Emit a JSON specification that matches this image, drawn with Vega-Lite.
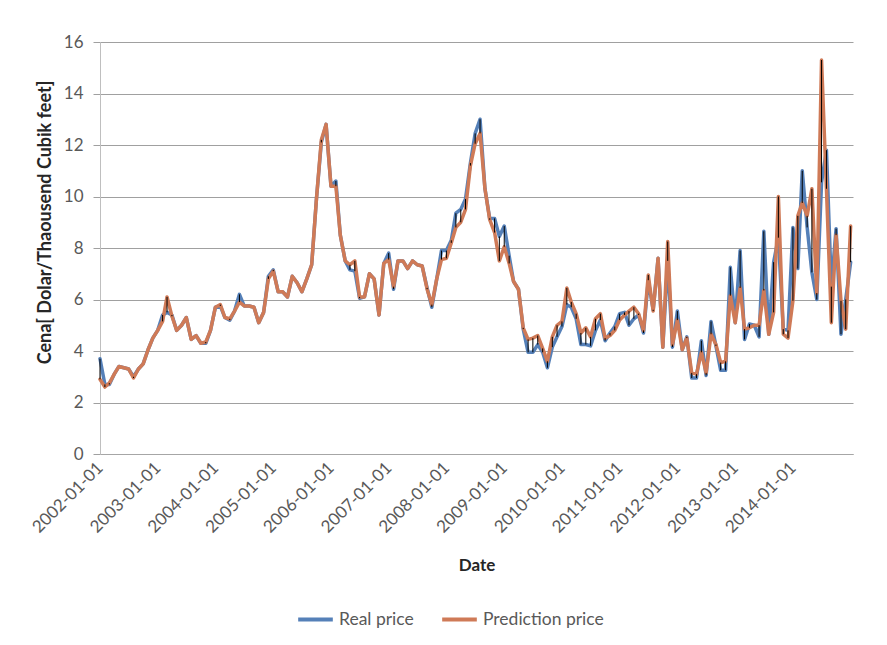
{
  "$schema": "https://vega.github.io/schema/vega-lite/v6.json",
  "width": 753,
  "height": 412,
  "autosize": {"type": "none"},
  "padding": {"left": 100, "top": 42, "right": 34, "bottom": 191},
  "background": "white",
  "config": {
    "font": "Lato",
    "view": {"stroke": null},
    "axis": {"labelFont": "Lato", "labelFontSize": 16, "labelColor": "#595959", "titleFont": "Lato", "titleFontSize": 17, "titleFontWeight": "bold", "titleColor": "#262626"},
    "legend": {"labelFont": "Lato", "labelFontSize": 17.5, "labelColor": "#595959"}
  },
  "data": {"values": [
    {"date":"2002-01-01","real":3.7,"pred":2.9},{"date":"2002-02-01","real":2.7,"pred":2.6},{"date":"2002-03-01","real":2.7,"pred":2.75},{"date":"2002-04-01","real":3.1,"pred":3.1},{"date":"2002-05-01","real":3.4,"pred":3.4},{"date":"2002-06-01","real":3.35,"pred":3.35},{"date":"2002-07-01","real":3.3,"pred":3.3},{"date":"2002-08-01","real":3.0,"pred":2.95},{"date":"2002-09-01","real":3.3,"pred":3.3},{"date":"2002-10-01","real":3.5,"pred":3.5},{"date":"2002-11-01","real":4.05,"pred":4.05},{"date":"2002-12-01","real":4.5,"pred":4.5},
    {"date":"2003-01-01","real":4.8,"pred":4.8},{"date":"2003-02-01","real":5.4,"pred":5.15},{"date":"2003-03-01","real":5.5,"pred":6.1},{"date":"2003-04-01","real":5.4,"pred":5.35},{"date":"2003-05-01","real":4.8,"pred":4.8},{"date":"2003-06-01","real":5.0,"pred":5.0},{"date":"2003-07-01","real":5.3,"pred":5.3},{"date":"2003-08-01","real":4.45,"pred":4.45},{"date":"2003-09-01","real":4.6,"pred":4.6},{"date":"2003-10-01","real":4.3,"pred":4.3},{"date":"2003-11-01","real":4.3,"pred":4.35},{"date":"2003-12-01","real":4.8,"pred":4.8},
    {"date":"2004-01-01","real":5.7,"pred":5.7},{"date":"2004-02-01","real":5.75,"pred":5.8},{"date":"2004-03-01","real":5.3,"pred":5.3},{"date":"2004-04-01","real":5.2,"pred":5.25},{"date":"2004-05-01","real":5.55,"pred":5.55},{"date":"2004-06-01","real":6.2,"pred":5.9},{"date":"2004-07-01","real":5.75,"pred":5.75},{"date":"2004-08-01","real":5.75,"pred":5.75},{"date":"2004-09-01","real":5.7,"pred":5.7},{"date":"2004-10-01","real":5.1,"pred":5.1},{"date":"2004-11-01","real":5.5,"pred":5.5},{"date":"2004-12-01","real":6.9,"pred":6.8},
    {"date":"2005-01-01","real":7.15,"pred":7.1},{"date":"2005-02-01","real":6.3,"pred":6.3},{"date":"2005-03-01","real":6.3,"pred":6.3},{"date":"2005-04-01","real":6.1,"pred":6.1},{"date":"2005-05-01","real":6.9,"pred":6.9},{"date":"2005-06-01","real":6.65,"pred":6.65},{"date":"2005-07-01","real":6.3,"pred":6.3},{"date":"2005-08-01","real":6.8,"pred":6.8},{"date":"2005-09-01","real":7.35,"pred":7.35},{"date":"2005-10-01","real":9.9,"pred":9.9},{"date":"2005-11-01","real":12.1,"pred":12.2},{"date":"2005-12-01","real":12.8,"pred":12.8},
    {"date":"2006-01-01","real":10.4,"pred":10.4},{"date":"2006-02-01","real":10.6,"pred":10.4},{"date":"2006-03-01","real":8.5,"pred":8.5},{"date":"2006-04-01","real":7.5,"pred":7.5},{"date":"2006-05-01","real":7.15,"pred":7.35},{"date":"2006-06-01","real":7.1,"pred":7.5},{"date":"2006-07-01","real":6.05,"pred":6.1},{"date":"2006-08-01","real":6.1,"pred":6.1},{"date":"2006-09-01","real":7.0,"pred":7.0},{"date":"2006-10-01","real":6.8,"pred":6.8},{"date":"2006-11-01","real":5.4,"pred":5.4},{"date":"2006-12-01","real":7.4,"pred":7.4},
    {"date":"2007-01-01","real":7.8,"pred":7.55},{"date":"2007-02-01","real":6.4,"pred":6.5},{"date":"2007-03-01","real":7.5,"pred":7.5},{"date":"2007-04-01","real":7.5,"pred":7.5},{"date":"2007-05-01","real":7.2,"pred":7.2},{"date":"2007-06-01","real":7.5,"pred":7.5},{"date":"2007-07-01","real":7.35,"pred":7.35},{"date":"2007-08-01","real":7.3,"pred":7.3},{"date":"2007-09-01","real":6.45,"pred":6.4},{"date":"2007-10-01","real":5.7,"pred":5.8},{"date":"2007-11-01","real":6.8,"pred":6.8},{"date":"2007-12-01","real":7.9,"pred":7.55},
    {"date":"2008-01-01","real":7.9,"pred":7.6},{"date":"2008-02-01","real":8.3,"pred":8.2},{"date":"2008-03-01","real":9.35,"pred":8.8},{"date":"2008-04-01","real":9.5,"pred":9.0},{"date":"2008-05-01","real":9.9,"pred":9.5},{"date":"2008-06-01","real":11.3,"pred":11.2},{"date":"2008-07-01","real":12.45,"pred":12.05},{"date":"2008-08-01","real":13.0,"pred":12.45},{"date":"2008-09-01","real":10.3,"pred":10.3},{"date":"2008-10-01","real":9.15,"pred":9.1},{"date":"2008-11-01","real":9.15,"pred":8.6},{"date":"2008-12-01","real":8.45,"pred":7.5},
    {"date":"2009-01-01","real":8.85,"pred":8.05},{"date":"2009-02-01","real":7.7,"pred":7.4},{"date":"2009-03-01","real":6.7,"pred":6.7},{"date":"2009-04-01","real":6.4,"pred":6.4},{"date":"2009-05-01","real":4.85,"pred":4.9},{"date":"2009-06-01","real":3.95,"pred":4.45},{"date":"2009-07-01","real":3.95,"pred":4.5},{"date":"2009-08-01","real":4.25,"pred":4.6},{"date":"2009-09-01","real":3.95,"pred":4.1},{"date":"2009-10-01","real":3.35,"pred":3.6},{"date":"2009-11-01","real":4.15,"pred":4.55},{"date":"2009-12-01","real":4.55,"pred":5.0},
    {"date":"2010-01-01","real":4.95,"pred":5.15},{"date":"2010-02-01","real":5.8,"pred":6.45},{"date":"2010-03-01","real":5.7,"pred":5.9},{"date":"2010-04-01","real":5.25,"pred":5.45},{"date":"2010-05-01","real":4.25,"pred":4.7},{"date":"2010-06-01","real":4.25,"pred":4.9},{"date":"2010-07-01","real":4.2,"pred":4.55},{"date":"2010-08-01","real":4.8,"pred":5.25},{"date":"2010-09-01","real":5.2,"pred":5.45},{"date":"2010-10-01","real":4.4,"pred":4.5},{"date":"2010-11-01","real":4.7,"pred":4.6},{"date":"2010-12-01","real":4.95,"pred":4.8},
    {"date":"2011-01-01","real":5.45,"pred":5.2},{"date":"2011-02-01","real":5.5,"pred":5.4},{"date":"2011-03-01","real":5.0,"pred":5.55},{"date":"2011-04-01","real":5.25,"pred":5.7},{"date":"2011-05-01","real":5.4,"pred":5.45},{"date":"2011-06-01","real":4.7,"pred":4.8},{"date":"2011-07-01","real":6.75,"pred":6.95},{"date":"2011-08-01","real":5.6,"pred":5.55},{"date":"2011-09-01","real":7.6,"pred":7.6},{"date":"2011-10-01","real":4.15,"pred":4.15},{"date":"2011-11-01","real":7.5,"pred":8.25},{"date":"2011-12-01","real":4.15,"pred":4.25},
    {"date":"2012-01-01","real":5.55,"pred":5.2},{"date":"2012-02-01","real":4.05,"pred":4.05},{"date":"2012-03-01","real":4.55,"pred":4.5},{"date":"2012-04-01","real":2.95,"pred":3.15},{"date":"2012-05-01","real":2.95,"pred":3.1},{"date":"2012-06-01","real":4.4,"pred":3.95},{"date":"2012-07-01","real":3.05,"pred":3.15},{"date":"2012-08-01","real":5.15,"pred":4.65},{"date":"2012-09-01","real":4.2,"pred":4.25},{"date":"2012-10-01","real":3.25,"pred":3.55},{"date":"2012-11-01","real":3.25,"pred":3.6},{"date":"2012-12-01","real":7.25,"pred":6.15},
    {"date":"2013-01-01","real":5.1,"pred":5.1},{"date":"2013-02-01","real":7.9,"pred":6.45},{"date":"2013-03-01","real":4.45,"pred":4.85},{"date":"2013-04-01","real":5.05,"pred":4.9},{"date":"2013-05-01","real":5.0,"pred":5.0},{"date":"2013-06-01","real":4.55,"pred":5.0},{"date":"2013-07-01","real":8.65,"pred":6.35},{"date":"2013-08-01","real":4.65,"pred":4.65},{"date":"2013-09-01","real":7.45,"pred":5.5},{"date":"2013-10-01","real":8.4,"pred":10.0},{"date":"2013-11-01","real":4.85,"pred":4.65},{"date":"2013-12-01","real":4.8,"pred":4.5},
    {"date":"2014-01-01","real":8.8,"pred":5.95},{"date":"2014-02-01","real":7.2,"pred":9.25},{"date":"2014-03-01","real":11.0,"pred":9.75},{"date":"2014-04-01","real":8.8,"pred":9.25},{"date":"2014-05-01","real":7.05,"pred":10.3},{"date":"2014-06-01","real":6.0,"pred":6.25},{"date":"2014-07-01","real":10.55,"pred":15.3},{"date":"2014-08-01","real":11.8,"pred":10.3},{"date":"2014-09-01","real":6.5,"pred":5.1},{"date":"2014-10-01","real":8.75,"pred":8.5},{"date":"2014-11-01","real":4.65,"pred":5.95},{"date":"2014-12-01","real":6.0,"pred":4.85},
    {"date":"2015-01-01","real":7.45,"pred":8.85}
  ]},
  "encoding": {
    "x": {
      "field": "date", "type": "temporal",
      "scale": {"type": "utc", "domain": [{"year": 2002, "month": 1, "date": 1, "utc": true}, {"year": 2015, "month": 1, "date": 16, "utc": true}]},
      "axis": {"title": "Date", "format": "%Y-%m-%d", "labelAngle": -45, "labelFontSize": 17,
        "values": [{"year": 2002, "month": 1, "date": 1, "utc": true}, {"year": 2003, "month": 1, "date": 1, "utc": true}, {"year": 2004, "month": 1, "date": 1, "utc": true}, {"year": 2005, "month": 1, "date": 1, "utc": true}, {"year": 2006, "month": 1, "date": 1, "utc": true}, {"year": 2007, "month": 1, "date": 1, "utc": true}, {"year": 2008, "month": 1, "date": 1, "utc": true}, {"year": 2009, "month": 1, "date": 1, "utc": true}, {"year": 2010, "month": 1, "date": 1, "utc": true}, {"year": 2011, "month": 1, "date": 1, "utc": true}, {"year": 2012, "month": 1, "date": 1, "utc": true}, {"year": 2013, "month": 1, "date": 1, "utc": true}, {"year": 2014, "month": 1, "date": 1, "utc": true}],
        "grid": false, "ticks": false, "domainColor": "#a6a6a6", "labelPadding": 11, "labelDy": 14, "labelFlush": false, "labelOverlap": false, "titlePadding": 22, "labelAlign": "right", "labelBaseline": "middle"}
    }
  },
  "layer": [
    {
      "mark": {"type": "line", "strokeWidth": 3.5, "strokeJoin": "round", "strokeCap": "round"},
      "encoding": {
        "y": {"field": "real", "type": "quantitative", "scale": {"domain": [0, 16]},
          "axis": {"title": "Cena[ Dolar/Thaousend  Cubik feet]", "titleFontSize": 18, "titleY": 180, "values": [0, 2, 4, 6, 8, 10, 12, 14, 16], "labelFontSize": 17, "grid": true, "gridColor": "#a0a0a0", "domainColor": "#bfbfbf", "tickColor": "#a0a0a0", "tickSize": 7, "labelPadding": 10, "titlePadding": 9}},
        "color": {"datum": "Real price", "type": "nominal",
          "scale": {"domain": ["Real price", "Prediction price"], "range": ["#5580b8", "#cf7a57"]},
          "legend": {"title": null, "orient": "none", "direction": "horizontal", "legendX": 196, "legendY": 558, "symbolType": "stroke", "symbolSize": 1200, "symbolStrokeWidth": 4, "columnPadding": 20, "labelOffset": 4, "padding": 0}}
      }
    },
    {
      "mark": {"type": "line", "strokeWidth": 3.5, "strokeJoin": "round", "strokeCap": "round"},
      "encoding": {
        "y": {"field": "pred", "type": "quantitative"},
        "color": {"datum": "Prediction price", "type": "nominal"}
      }
    },
    {
      "mark": {"type": "rule", "color": "#000000", "strokeWidth": 1},
      "encoding": {
        "y": {"field": "real", "type": "quantitative"},
        "y2": {"field": "pred"}
      }
    }
  ]
}
